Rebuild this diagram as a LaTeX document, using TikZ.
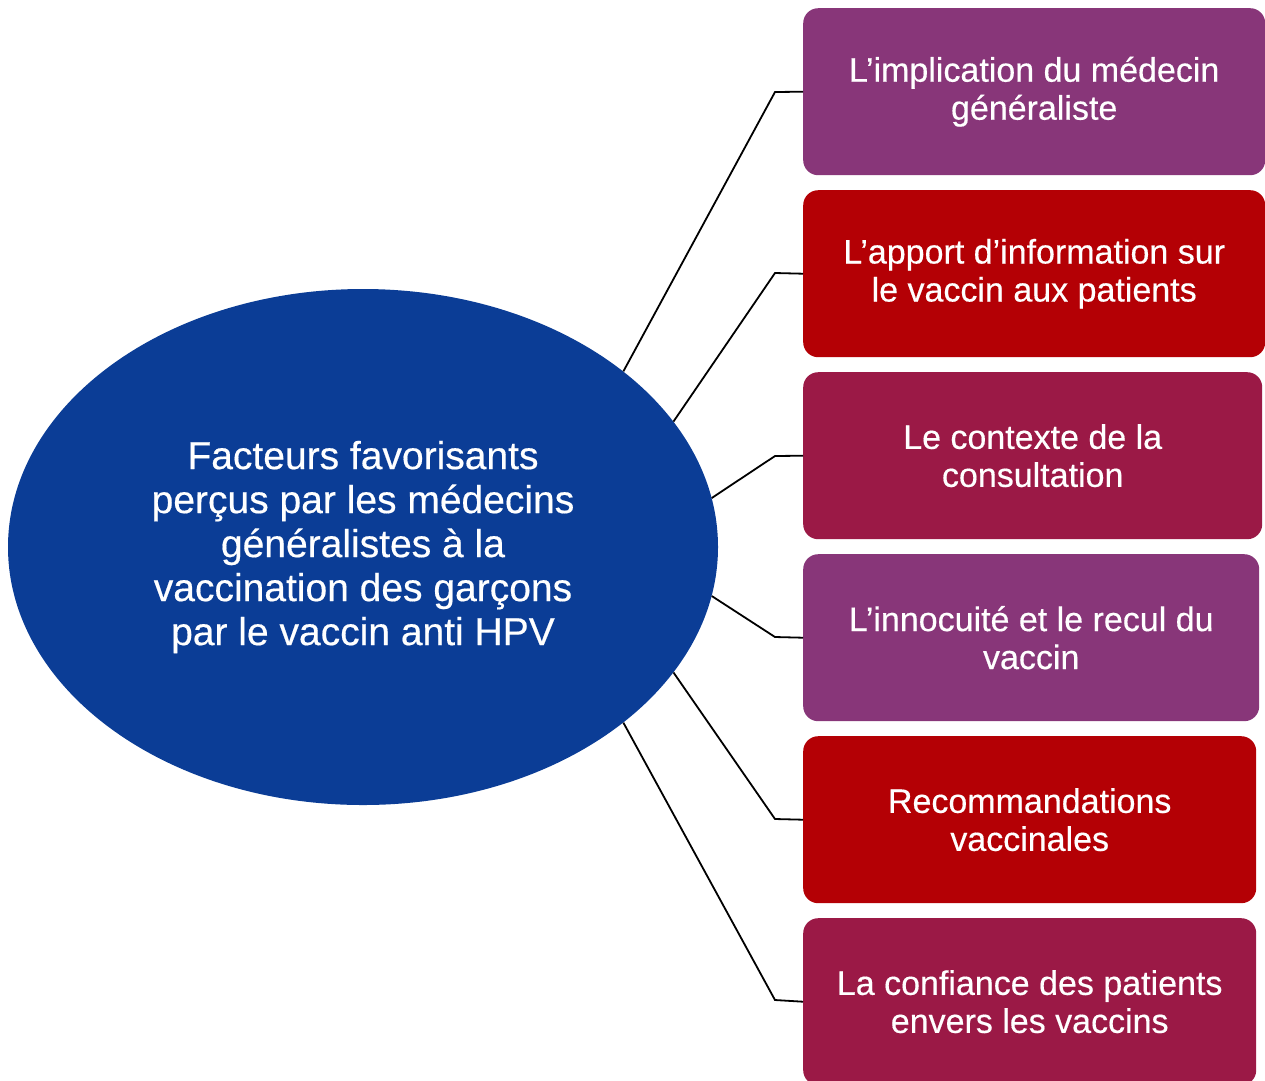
\documentclass[tikz,border=0pt]{standalone}
\usepackage{fontspec}
\setmainfont{Liberation Sans}[FakeBold=0.4]
\usetikzlibrary{shapes.geometric}
\definecolor{cpurple}{HTML}{883679}
\definecolor{cred}{HTML}{B40005}
\definecolor{ccrim}{HTML}{9B1946}
\definecolor{cblue}{HTML}{0B3D96}
\tikzset{
  box/.style={rectangle, rounded corners=15pt, anchor=north west, minimum height=167pt,
    text=white, align=center, inner sep=0pt, font=\fontsize{34}{38}\selectfont},
  conn/.style={draw=black, line width=1.8pt},
}
\begin{document}
\begin{tikzpicture}[x=1pt,y=-1pt]
\useasboundingbox (0,0) rectangle (1265,1080);
\node[ellipse, fill=cblue, minimum width=710pt, minimum height=516pt, inner sep=0pt,
  text=white, align=center, font=\fontsize{39}{44}\selectfont] (E) at (363,547)
  {Facteurs favorisants\\perçus par les médecins\\généralistes à la\\vaccination des garçons\\par le vaccin anti HPV};
\node[box, fill=cpurple, minimum width=462pt] (b1) at (803,8) {L’implication du médecin\\généraliste};
\node[box, fill=cred, minimum width=462pt] (b2) at (803,190) {L’apport d’information sur\\le vaccin aux patients};
\node[box, fill=ccrim, minimum width=459pt] (b3) at (803,372) {Le contexte de la\\consultation};
\node[box, fill=cpurple, minimum width=456pt] (b4) at (803,554) {L’innocuité et le recul du\\vaccin};
\node[box, fill=cred, minimum width=453pt] (b5) at (803,736) {Recommandations\\vaccinales};
\node[box, fill=ccrim, minimum width=453pt] (b6) at (803,918) {La confiance des patients\\envers les vaccins};
\coordinate (k1) at (775,92);
\coordinate (k2) at (775,273);
\coordinate (k3) at (775,456);
\coordinate (k4) at (775,637);
\coordinate (k5) at (775,819);
\coordinate (k6) at (775,1000);
\draw[conn] (E.34) -- (k1) -- (b1.west);
\draw[conn] (E.22) -- (k2) -- (b2.west);
\draw[conn] (E.8) -- (k3) -- (b3.west);
\draw[conn] (E.-8) -- (k4) -- (b4.west);
\draw[conn] (E.-22) -- (k5) -- (b5.west);
\draw[conn] (E.-34) -- (k6) -- (b6.west);
\end{tikzpicture}
\end{document}
